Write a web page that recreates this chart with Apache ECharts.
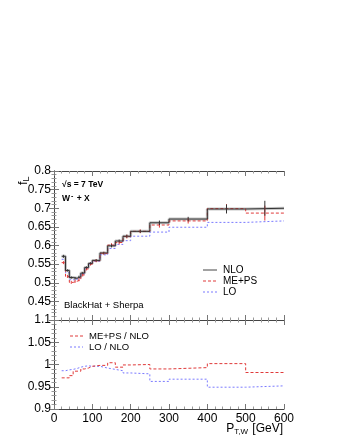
<!DOCTYPE html>
<html><head><meta charset="utf-8">
<script src="https://cdn.jsdelivr.net/npm/echarts@6/dist/echarts.min.js"></script>
<style>html,body{margin:0;padding:0;background:#fff}#c{width:340px;height:440px}</style>
</head><body><div id="c"></div>
<script>
// bin edges (GeV)
const binEdges = [20,30,40,50,60,70,80,90,100,120,140,160,180,200,250,300,400,500,600];
// f_L values per bin
const nlo  = [0.571,0.533,0.514,0.512,0.516,0.526,0.541,0.552,0.560,0.580,0.599,0.612,0.625,0.638,0.661,0.671,0.698,0.700];
const meps = [0.554,0.517,0.501,0.504,0.508,0.521,0.537,0.550,0.559,0.579,0.601,0.608,0.624,0.638,0.655,0.666,0.699,0.687];
const lo   = [0.563,0.527,0.508,0.507,0.513,0.524,0.539,0.550,0.558,0.575,0.592,0.603,0.613,0.625,0.636,0.649,0.662,0.666];
const nloErr  = [0.004,0.003,0.003,0.003,0.003,0.003,0.003,0.003,0.003,0.003,0.004,0.004,0.004,0.004,0.006,0.006,0.012,0.020];
const mepsErr = [0.004,0.004,0.004,0.004,0.004,0.004,0.004,0.004,0.004,0.004,0.005,0.005,0.005,0.005,0.007,0.007,0.012,0.020];
// ratios
const ratioMepsNlo = [0.970,0.970,0.975,0.985,0.985,0.990,0.992,0.996,0.998,0.998,1.004,0.994,0.999,1.000,0.990,0.993,1.002,0.982];
const ratioLoNlo   = [0.986,0.988,0.989,0.991,0.994,0.996,0.997,0.996,0.996,0.992,0.989,0.986,0.981,0.979,0.962,0.967,0.949,0.952];
// ticks
const xTicks = [0,100,200,300,400,500,600];
const yTopTicks = [0.45,0.5,0.55,0.6,0.65,0.7,0.75,0.8];
const yBotTicks = [0.9,0.95,1,1.05,1.1];

function stepData(vals){
  const d = vals.map((v,i)=>[binEdges[i], v]);
  d.push([binEdges[binEdges.length-1], vals[vals.length-1]]);
  return d;
}
function errData(vals, errs){
  return vals.map((v,i)=>[(binEdges[i]+binEdges[i+1])/2, v-errs[i], v+errs[i]]);
}
function errRender(color, w){
  return function(params, api){
    const p1 = api.coord([api.value(0), api.value(1)]);
    const p2 = api.coord([api.value(0), api.value(2)]);
    return {type:'line', shape:{x1:p1[0],y1:p1[1],x2:p2[0],y2:p2[1]}, style:{stroke:color, lineWidth:w}};
  };
}

const FONT = 'Liberation Sans';
const axisLine = {show:true, lineStyle:{color:'#444', width:1}};
function xAx(grid, pos, labels){
  return {type:'value', gridIndex:grid, position:pos, min:0, max:600, interval:100,
    axisLine, axisTick:{show:true, inside:true, length:5, lineStyle:{color:'#777'}},
    minorTick:{show:true, splitNumber:5, length:2.5, lineStyle:{color:'#999'}},
    splitLine:{show:false},
    axisLabel:{show:labels, color:'#000', fontFamily:FONT, fontSize:12, margin:4,
      formatter:v=> xTicks.includes(v)? String(v):''}};
}
function yAx(grid, pos, min, max, labels, ticks){
  return {type:'value', gridIndex:grid, position:pos, min, max, interval:0.05,
    axisLine, axisTick:{show:true, inside:true, length:5, lineStyle:{color:'#777'}},
    minorTick:{show:true, splitNumber:5, length:2.5, lineStyle:{color:'#999'}},
    splitLine:{show:false},
    axisLabel:{show:labels, color:'#000', fontFamily:FONT, fontSize:12, margin:3,
      formatter:v=>{ const t = ticks.find(k=>Math.abs(k-v)<1e-6); return t===undefined? '' : String(t); }}};
}

const chart = echarts.init(document.getElementById('c'), null, {renderer:'canvas'});
const red = '#e03a3a', blue = '#7a7aff';
chart.setOption({
  animation:false,
  backgroundColor:'#fff',
  grid:[{left:54, top:171, width:230, height:149},{left:54, top:320, width:230, height:89}],
  xAxis:[xAx(0,'bottom',false), xAx(0,'top',false), xAx(1,'bottom',true), xAx(1,'top',false)],
  yAxis:[yAx(0,'left',0.4,0.8,true,yTopTicks), yAx(0,'right',0.4,0.8,false,yTopTicks),
         yAx(1,'left',0.9,1.1,true,yBotTicks), yAx(1,'right',0.9,1.1,false,yBotTicks)],
  series:[
    {type:'line', xAxisIndex:0, yAxisIndex:0, step:'end', data:stepData(nlo), symbol:'none',
      lineStyle:{color:'rgba(160,160,160,0.6)', width:3}, z:2},
    {type:'line', xAxisIndex:0, yAxisIndex:0, step:'end', data:stepData(lo), symbol:'none',
      lineStyle:{color:blue, width:1, type:[2,2]}, z:3},
    {type:'line', xAxisIndex:0, yAxisIndex:0, step:'end', data:stepData(meps), symbol:'none',
      lineStyle:{color:red, width:1, type:[3,2]}, z:4},
    {type:'line', xAxisIndex:0, yAxisIndex:0, step:'end', data:stepData(nlo), symbol:'none',
      lineStyle:{color:'#333', width:1}, z:5},
    {type:'custom', xAxisIndex:0, yAxisIndex:0, data:errData(meps,mepsErr), renderItem:errRender(red,1), z:6},
    {type:'custom', xAxisIndex:0, yAxisIndex:0, data:errData(nlo,nloErr), renderItem:errRender('#333',1), z:7},
    {type:'line', xAxisIndex:2, yAxisIndex:2, step:'end', data:stepData(ratioLoNlo), symbol:'none',
      lineStyle:{color:blue, width:1, type:[2,2]}, z:3},
    {type:'line', xAxisIndex:2, yAxisIndex:2, step:'end', data:stepData(ratioMepsNlo), symbol:'none',
      lineStyle:{color:red, width:1, type:[3,2]}, z:4}
  ],
  graphic:[
    {type:'text', x:15, y:185, rotation:Math.PI/2, style:{text:'f{s|L}', font:'13px '+FONT, fill:'#000',
      rich:{s:{fontSize:9, fontFamily:FONT, padding:[7,0,0,0]}}}},
    {type:'text', x:62, y:180, style:{text:'√s = 7 TeV', font:'bold 8.5px '+FONT, fill:'#000'}},
    {type:'text', x:62, y:193, style:{text:'W{s|-} + X', font:'bold 8.5px '+FONT, fill:'#000',
      rich:{s:{fontSize:7, fontWeight:'bold', fontFamily:FONT, padding:[0,1,5,1]}}}},
    {type:'text', x:64, y:300, style:{text:'BlackHat + Sherpa', font:'9.5px '+FONT, fill:'#000'}},
    {type:'line', shape:{x1:203,y1:270,x2:217,y2:270}, style:{stroke:'#444', lineWidth:1}},
    {type:'line', shape:{x1:203,y1:281,x2:217,y2:281}, style:{stroke:red, lineWidth:1, lineDash:[3,2]}},
    {type:'line', shape:{x1:203,y1:292,x2:217,y2:292}, style:{stroke:blue, lineWidth:1, lineDash:[2,2]}},
    {type:'text', x:223, y:265, style:{text:'NLO', font:'10px '+FONT, fill:'#000'}},
    {type:'text', x:223, y:276, style:{text:'ME+PS', font:'10px '+FONT, fill:'#000'}},
    {type:'text', x:223, y:287, style:{text:'LO', font:'10px '+FONT, fill:'#000'}},
    {type:'line', shape:{x1:70,y1:336,x2:83,y2:336}, style:{stroke:red, lineWidth:1, lineDash:[3,2]}},
    {type:'line', shape:{x1:70,y1:347,x2:83,y2:347}, style:{stroke:blue, lineWidth:1, lineDash:[2,2]}},
    {type:'text', x:89, y:331, style:{text:'ME+PS / NLO', font:'9.5px '+FONT, fill:'#000'}},
    {type:'text', x:89, y:342, style:{text:'LO / NLO', font:'9.5px '+FONT, fill:'#000'}},
    {type:'text', right:57, y:421, style:{text:'P{s|T,W} [GeV]', font:'12px '+FONT, fill:'#000',
      rich:{s:{fontSize:8, fontFamily:FONT, padding:[7,1,0,0]}}}}
  ]
});
</script></body></html>
